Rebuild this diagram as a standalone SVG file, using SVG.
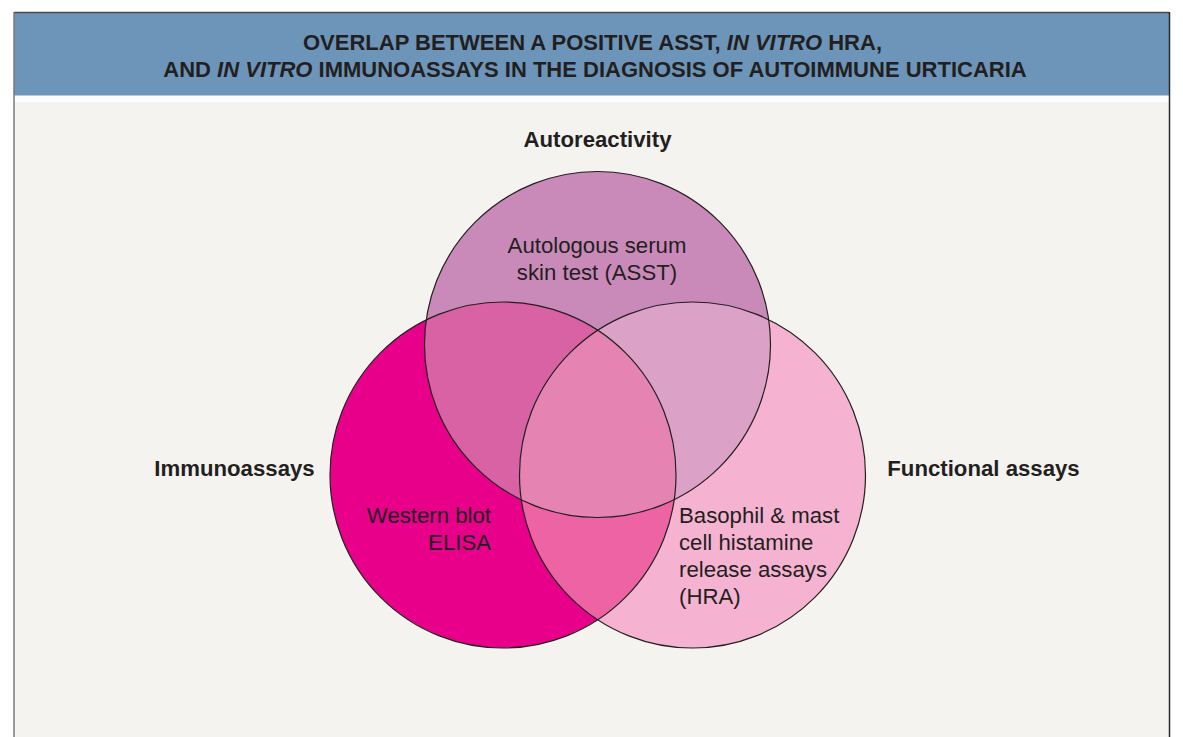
<svg xmlns="http://www.w3.org/2000/svg" width="1183" height="737" viewBox="0 0 1183 737">
<style>
.t{font-family:"Liberation Sans",Arial,sans-serif;fill:#231f20}
.b{font-weight:bold}
.r{font-size:22.2px}
.h{font-size:22px;font-weight:bold}
.edge{fill:none;stroke:#231f20;stroke-width:1.2}
</style>
<defs>
<clipPath id="cL"><circle cx="503" cy="475" r="173"/></clipPath>
<clipPath id="cR"><circle cx="692.5" cy="475" r="173"/></clipPath>
<clipPath id="cT"><circle cx="597.5" cy="344.5" r="173"/></clipPath>
</defs>
<rect width="1183" height="737" fill="#ffffff"/>
<g id="panel">
<rect x="14" y="102" width="1155" height="640" fill="#f5f3ef"/>
<rect x="14" y="12.5" width="1155" height="83" fill="#6c95b9"/>
<line x1="14" y1="12.5" x2="1169" y2="12.5" stroke="#4a4a4a" stroke-width="1.5"/>
<line x1="14" y1="12" x2="14" y2="737" stroke="#7a7a7a" stroke-width="1.5"/>
<line x1="1169.5" y1="12" x2="1169.5" y2="737" stroke="#2a2a2a" stroke-width="1.5"/>
<text class="t h" x="592.5" y="50" text-anchor="middle">OVERLAP BETWEEN A POSITIVE ASST, <tspan font-style="italic">IN VITRO</tspan> HRA,</text>
<text class="t h" x="595" y="77" text-anchor="middle">AND <tspan font-style="italic">IN VITRO</tspan> IMMUNOASSAYS IN THE DIAGNOSIS OF AUTOIMMUNE URTICARIA</text>
</g>
<g id="immunoassays">
<circle cx="503" cy="475" r="173" fill="#e8008a"/>
<text class="t b r" x="234.5" y="476" text-anchor="middle">Immunoassays</text>
</g>
<g id="functional">
<circle cx="692.5" cy="475" r="173" fill="#f5b3d1"/>
<text class="t b r" x="983.5" y="476" text-anchor="middle">Functional assays</text>
</g>
<g id="autoreactivity">
<circle cx="597.5" cy="344.5" r="173" fill="#c98aba"/>
<text class="t b r" x="597.5" y="147" text-anchor="middle">Autoreactivity</text>
</g>
<g id="overlaps">
<g clip-path="url(#cR)"><rect x="300" y="160" width="600" height="500" fill="#ee63a4" clip-path="url(#cL)"/></g>
<g clip-path="url(#cT)"><rect x="300" y="160" width="600" height="500" fill="#d862a3" clip-path="url(#cL)"/></g>
<g clip-path="url(#cT)"><rect x="300" y="160" width="600" height="500" fill="#dca1c7" clip-path="url(#cR)"/></g>
<g clip-path="url(#cT)"><g clip-path="url(#cR)"><rect x="300" y="160" width="600" height="500" fill="#e584b3" clip-path="url(#cL)"/></g></g>
</g>
<g id="outlines">
<circle class="edge" cx="503" cy="475" r="173"/>
<circle class="edge" cx="692.5" cy="475" r="173"/>
<circle class="edge" cx="597.5" cy="344.5" r="173"/>
</g>
<g id="labels">
<text class="t r" x="597" y="253" text-anchor="middle">Autologous serum</text>
<text class="t r" x="597" y="280" text-anchor="middle">skin test (ASST)</text>
<text class="t r" x="491" y="523" text-anchor="end">Western blot</text>
<text class="t r" x="491" y="550" text-anchor="end">ELISA</text>
<text class="t r" x="679" y="523">Basophil &amp; mast</text>
<text class="t r" x="679" y="550">cell histamine</text>
<text class="t r" x="679" y="577">release assays</text>
<text class="t r" x="679" y="604">(HRA)</text>
</g>
</svg>
